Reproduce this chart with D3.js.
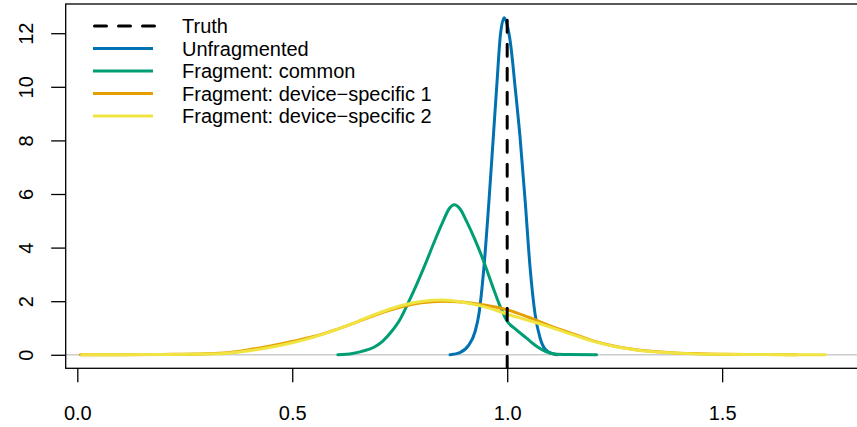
<!DOCTYPE html>
<html>
<head>
<meta charset="utf-8">
<script src="https://cdn.jsdelivr.net/npm/d3@7"></script>
<style>
  html, body { margin: 0; padding: 0; background: #fff; }
  svg { display: block; font-family: "Liberation Sans", Arial, Helvetica, sans-serif; }
</style>
</head>
<body>
<svg id="chart" width="857" height="427"></svg>
<script>
// Kernel density estimates of the estimated parameter, one curve per method
const truthValue = 1.0;

const unfragX = [0.867, 0.89, 0.91, 0.925, 0.935, 0.945, 0.957, 0.968, 0.976, 0.984, 0.993, 1.000, 1.007, 1.019, 1.030, 1.042, 1.053, 1.065, 1.077, 1.092, 1.116];
const unfragY = [0, 0.08, 0.35, 0.85, 1.6, 3.1, 5.6, 8.2, 10.1, 11.9, 12.58, 12.3, 11.7, 9.9, 8.1, 5.7, 3.3, 1.5, 0.6, 0.15, 0];

const commonX = [0.606, 0.64, 0.66, 0.69, 0.71, 0.73, 0.75, 0.77, 0.79, 0.81, 0.83, 0.85, 0.865, 0.877, 0.89, 0.905, 0.925, 0.945, 0.965, 0.985, 1.0, 1.02, 1.045, 1.07, 1.09, 1.11, 1.14, 1.208];
const commonY = [0, 0.05, 0.12, 0.28, 0.5, 0.85, 1.3, 1.95, 2.65, 3.4, 4.2, 4.95, 5.45, 5.6, 5.45, 5.0, 4.3, 3.5, 2.6, 1.75, 1.25, 0.95, 0.62, 0.3, 0.12, 0.03, 0.01, 0];

const ds1X = [0.007, 0.10, 0.20, 0.30, 0.35, 0.40, 0.45, 0.50, 0.55, 0.60, 0.65, 0.70, 0.75, 0.80, 0.85, 0.90, 0.95, 1.00, 1.05, 1.10, 1.15, 1.20, 1.25, 1.30, 1.35, 1.40, 1.45, 1.50, 1.60, 1.674];
const ds1Y = [0, 0.005, 0.015, 0.04, 0.08, 0.19, 0.33, 0.50, 0.68, 0.93, 1.22, 1.52, 1.77, 1.94, 2.00, 1.96, 1.85, 1.68, 1.40, 1.08, 0.80, 0.52, 0.32, 0.19, 0.11, 0.06, 0.04, 0.02, 0.01, 0];

const ds2X = [0.01, 0.10, 0.20, 0.30, 0.35, 0.40, 0.45, 0.50, 0.55, 0.60, 0.65, 0.70, 0.75, 0.80, 0.85, 0.90, 0.95, 1.00, 1.05, 1.10, 1.15, 1.20, 1.25, 1.30, 1.35, 1.40, 1.45, 1.50, 1.60, 1.74];
const ds2Y = [0, 0.005, 0.012, 0.03, 0.06, 0.15, 0.28, 0.45, 0.66, 0.92, 1.23, 1.55, 1.82, 1.99, 2.04, 1.95, 1.78, 1.52, 1.28, 1.03, 0.76, 0.50, 0.31, 0.18, 0.10, 0.06, 0.03, 0.02, 0.01, 0];

const xTicks = [0, 0.5, 1.0, 1.5];
const yTicks = [0, 2, 4, 6, 8, 10, 12];

const legendLabels = ["Truth", "Unfragmented", "Fragment: common", "Fragment: device\u2212specific 1", "Fragment: device\u2212specific 2"];
const colors = { truth: "#000000", unfrag: "#0072B2", common: "#009E73", ds1: "#E69F00", ds2: "#F0E442" };

// Plot region (R-style usr extents with 4% padding)
const box = { left: 65.7, top: 4, bottom: 368.3, right: 864 };
const x = d3.scaleLinear().domain([-0.027, 1.83]).range([box.left, box.right]);
const y = d3.scaleLinear().domain([-0.504, 13.09]).range([box.bottom, box.top]);

const svg = d3.select("#chart");
const fontSize = 20;

svg.append("defs").append("clipPath").attr("id", "plotclip")
  .append("rect").attr("x", box.left).attr("y", box.top)
  .attr("width", box.right - box.left).attr("height", box.bottom - box.top);

const plot = svg.append("g").attr("clip-path", "url(#plotclip)");

// zero reference line
plot.append("line")
  .attr("x1", box.left).attr("x2", box.right)
  .attr("y1", y(0)).attr("y2", y(0))
  .attr("stroke", "#CCCCCC").attr("stroke-width", 1.5);

const line = d3.line().x(d => x(d[0])).y(d => y(d[1])).curve(d3.curveMonotoneX);
const series = [
  { xs: unfragX, ys: unfragY, color: colors.unfrag },
  { xs: commonX, ys: commonY, color: colors.common },
  { xs: ds1X, ys: ds1Y, color: colors.ds1 },
  { xs: ds2X, ys: ds2Y, color: colors.ds2 }
];
series.forEach(s => {
  plot.append("path")
    .datum(d3.zip(s.xs, s.ys))
    .attr("d", line)
    .attr("fill", "none")
    .attr("stroke", s.color)
    .attr("stroke-width", 3)
    .attr("stroke-linecap", "round")
    .attr("stroke-linejoin", "round");
});

// vertical dashed line at the true value, from the bottom of the region up to the tallest peak
plot.append("line")
  .attr("x1", x(truthValue)).attr("x2", x(truthValue))
  .attr("y1", box.bottom).attr("y2", y(d3.max(unfragY)))
  .attr("stroke", colors.truth).attr("stroke-width", 3)
  .attr("stroke-dasharray", "12,12").attr("stroke-linecap", "round");

// frame
svg.append("rect")
  .attr("x", box.left).attr("y", box.top)
  .attr("width", box.right - box.left).attr("height", box.bottom - box.top)
  .attr("fill", "none").attr("stroke", "#000").attr("stroke-width", 1.3);

// x axis
const gx = svg.append("g").attr("transform", `translate(0,${box.bottom})`)
  .call(d3.axisBottom(x).tickValues(xTicks).tickFormat(d3.format(".1f"))
    .tickSizeInner(14).tickSizeOuter(0).tickPadding(23.5));
gx.select(".domain").remove();
gx.selectAll(".tick line").attr("stroke", "#000").attr("stroke-width", 1.3);
gx.selectAll(".tick text").attr("font-size", fontSize).attr("fill", "#000")
  .attr("font-family", "Liberation Sans, Arial, sans-serif");

// y axis (labels parallel to the axis)
const gy = svg.append("g").attr("transform", `translate(${box.left},0)`)
  .call(d3.axisLeft(y).tickValues(yTicks).tickFormat(d3.format("d"))
    .tickSizeInner(14.5).tickSizeOuter(0));
gy.select(".domain").remove();
gy.selectAll(".tick line").attr("stroke", "#000").attr("stroke-width", 1.3);
gy.selectAll(".tick text")
  .attr("font-size", fontSize).attr("fill", "#000")
  .attr("font-family", "Liberation Sans, Arial, sans-serif")
  .attr("transform", "rotate(-90)")
  .attr("x", 0).attr("y", -(box.left - 33)).attr("dy", 0)
  .attr("text-anchor", "middle");

// legend
const legend = svg.append("g");
const legendColors = [colors.truth, colors.unfrag, colors.common, colors.ds1, colors.ds2];
const rowY = d3.scaleLinear().domain([0, 4]).range([26, 116]);
legendLabels.forEach((lab, i) => {
  const cy = rowY(i);
  legend.append("line")
    .attr("x1", 93).attr("x2", 153).attr("y1", cy).attr("y2", cy)
    .attr("stroke", legendColors[i]).attr("stroke-width", 3)
    .attr("stroke-linecap", i === 0 ? "round" : "butt")
    .attr("stroke-dasharray", i === 0 ? "12,12" : null)
    .attr("transform", i === 0 ? "translate(1.5,0)" : null);
  legend.append("text")
    .attr("x", 182).attr("y", cy).attr("dy", "0.36em")
    .attr("font-size", fontSize).attr("fill", "#000")
    .text(lab);
});
</script>
</body>
</html>
